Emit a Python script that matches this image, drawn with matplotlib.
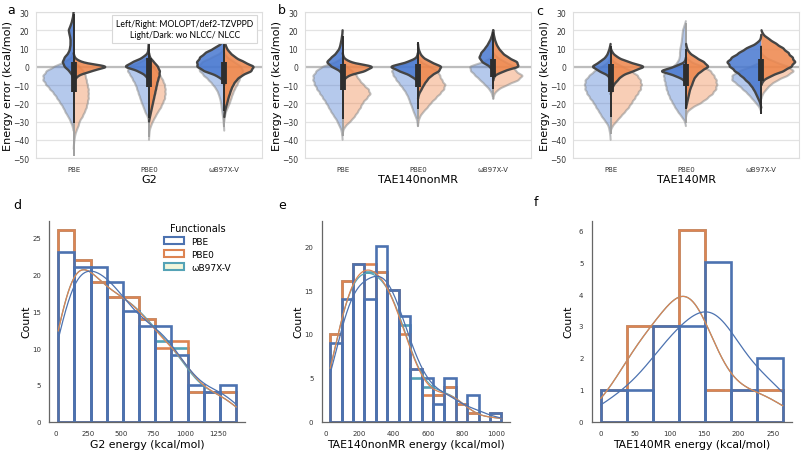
import numpy as np
import matplotlib
matplotlib.use("Agg")
import matplotlib.pyplot as plt
from matplotlib.patches import Patch

plt.rcParams['font.family'] = ['DejaVu Sans']

functionals = ["PBE", "PBE0", "ωB97X-V"]
datasets = ["G2", "TAE140nonMR", "TAE140MR"]

# violins: errors read in 2.5 kcal/mol bins, (lowest bin, relative counts going up)
STEP = 2.5

g2_wo_molopt = [
    (-32.5, [1, 3, 5, 8, 10, 13, 16, 19, 23, 27, 30, 30, 27, 19, 9, 2]),
    (-27.5, [1, 3.5, 5, 7, 8.5, 10, 11.5, 13, 15.5, 18, 21, 20, 8]),
    (-32.5, [0.3, 0.7, 1.2, 2, 2.5, 3, 4, 5.5, 7.5, 11, 15, 20, 24, 26, 22, 12, 3]),
]
g2_wo_def2 = [
    (-42.5, [0.3, 0.8, 1.5, 3, 5, 6, 9, 11, 13, 14, 15, 15, 15, 14, 13, 12, 10, 6, 1]),
    (-37.5, [0.3, 0.7, 2, 4, 6.5, 9, 12, 14, 16, 16.5, 16.5, 16, 14, 11.5, 8, 4, 1]),
    (-27.5, [0.5, 1.5, 3.5, 5.5, 7, 8.5, 10.5, 13, 15, 17, 19, 17, 10, 3]),
]
g2_nlcc_molopt = [
    (-5, [1, 4, 9, 11, 9, 5, 3.5, 3, 3, 4, 5, 3, 1.5, 0.5]),
    (-5, [3, 10, 25, 16, 6, 1, 0.5, 0.3]),
    (-7.5, [1, 7, 20, 27, 27, 24, 19, 10, 3, 0.5]),
]
g2_nlcc_def2 = [
    (-7.5, [1, 4, 17, 36, 7, 1]),
    (-27.5, [1, 2, 3, 4, 5, 6, 7, 8, 9, 10.5, 11, 9, 5, 1]),
    (-25, [0.5, 1.5, 3, 4, 5.5, 7, 9, 12, 17, 27, 30, 20, 11, 6, 2.5, 1, 0.3]),
]

non_wo_molopt = [
    (-37.5, [0.3, 1, 3, 5, 8, 11, 13.5, 16, 19, 22, 25, 27.5, 29, 29, 26, 20, 6]),
    (-30, [0.5, 2, 4, 5.5, 7.5, 9, 11, 14, 17.5, 21, 24, 26, 22, 6]),
    (-15, [1, 3.5, 8, 12.5, 17.5, 22, 24, 10, 1]),
]
non_wo_def2 = [
    (-35, [0.5, 3, 8, 12, 15, 18, 20, 24, 28, 26, 21, 17, 14, 10, 4]),
    (-30, [0.5, 2, 5, 9.5, 13, 17.5, 22, 26, 27.5, 24, 22, 20, 12, 3]),
    (-15, [1, 5, 14, 25, 30, 22, 21, 12, 4]),
]
non_nlcc_molopt = [
    (-2.5, [2, 11, 16, 11, 6, 3, 2, 1, 0.3]),
    (-7.5, [1, 7, 18, 29, 10, 1]),
    (-2.5, [0.5, 3, 11, 14, 12, 8, 5, 2.5, 1]),
]
non_nlcc_def2 = [
    (-7.5, [1, 5, 22, 32, 7, 1]),
    (-15, [1, 3.5, 6, 9, 13, 21, 24, 13, 5, 2, 0.5]),
    (-5, [1, 10, 26, 24, 15, 9, 5.5, 3, 1.5, 0.5]),
]

mr_wo_molopt = [
    (-37.5, [0.3, 1, 2, 5, 8.5, 11, 14, 16.5, 20, 23, 25, 25.5, 25, 21, 16, 8, 2]),
    (-30, [1, 4, 7.5, 10.5, 13, 15.5, 17.5, 19, 20, 21, 22, 20, 12, 8, 6, 6, 5.5, 4.5, 4, 3.5, 3, 1.5]),
    (-22.5, [1.5, 5, 9, 13, 18, 23, 29, 29, 22, 10]),
]
mr_wo_def2 = [
    (-32.5, [2, 6, 10, 14, 18, 21, 24, 27, 30, 31, 30, 27, 21, 12, 3]),
    (-25, [1, 6, 15, 21, 26.5, 30, 31, 30.5, 28, 25, 17, 5]),
    (-15, [1.5, 5, 9, 16, 26, 33, 27, 14, 4]),
]
mr_nlcc_molopt = [
    (-5, [2, 11, 19, 11, 5, 2.5, 1]),
    (-7.5, [1.5, 10, 27, 11, 1]),
    (-20, [1, 3, 5, 7.5, 10.5, 15, 20, 26, 31, 34, 29, 22, 15, 5, 0.5]),
]
mr_nlcc_def2 = [
    (-12.5, [1, 3, 7, 11, 22, 35, 18, 7, 2]),
    (-20, [1, 2, 3, 4, 6, 7.5, 10, 15, 23, 18, 10, 3.5, 1]),
    (-7.5, [2, 10, 22, 30, 34, 31, 27, 22, 15, 8, 2]),
]

# inner box (NLCC) and whisker of the wo NLCC layer, rows = datasets
box_q1 = [[-13.7, -11, -9.5], [-13, -11, -5.7], [-14, -10.4, -7.6]]
box_q3 = [[2.7, 5, 2.4], [1.5, 1.5, 4.3], [1.5, 1.5, 4.3]]
whisk_lo = [[-31, -28, -24], [-28.6, -23, -12], [-27.7, -23, -26]]
whisk_hi = [[29, 15, 15], [17, 13.4, 19], [11.6, 9.7, 11.6]]
wo_whisk_lo = [[-49, -38.6, -33], [-37.7, -28.6, -16.8], [-37, -31, -26]]
wo_whisk_hi = [[8, 5, 8], [5, 4, 5], [4, 24, 12]]

# histograms of reference energies
g2_bins = (18, 124.8)
g2_pbe = [23, 21, 21, 19, 15, 13, 13, 9, 5, 4, 5]
g2_pbe0 = [26, 22, 19, 17, 17, 14, 10, 11, 4, 4, 4]
g2_wb97xv = [26, 22, 19, 17, 17, 14, 11, 10, 4, 4, 4]

non_bins = (29, 66.7)
non_pbe = [9, 14, 18, 14, 20, 15, 12, 6, 5, 2, 5, 0, 3, 0, 1]
non_pbe0 = [10, 16, 18, 18, 17, 15, 10, 6, 3, 3, 4, 2, 1, 0, 1]
non_wb97xv = [10, 16, 18, 17, 17, 15, 11, 5, 4, 3, 4, 2, 1, 0, 1]

mr_bins = (0, 37.7)
mr_pbe = [1, 1, 3, 3, 5, 1, 2]
mr_pbe0 = [1, 3, 3, 6, 1, 1, 1]
mr_wb97xv = [1, 3, 3, 6, 1, 1, 1]

BLUE, ORANGE = "#4878d0", "#ee854a"
hist_colors = ["#4c72b0", "#dd8452", "#55a3b6"]
WIDTH_PER_COUNT = 1 / 75.0


def half_density(lo, counts, bw=1.25):
    centers = lo + STEP * np.arange(len(counts))
    y = np.linspace(centers[0] - 2 * bw, centers[-1] + 2 * bw, 300)
    d = np.zeros_like(y)
    for c, n in zip(centers, counts):
        d += n * np.exp(-0.5 * ((y - c) / bw) ** 2)
    d *= STEP / (bw * np.sqrt(2 * np.pi))
    return y, d


def draw_half(ax, x, lo, counts, side, color, alpha, ec, elw, z):
    y, d = half_density(lo, counts)
    xs = x + side * d * WIDTH_PER_COUNT
    ax.fill_betweenx(y, x, xs, facecolor=color, alpha=alpha, lw=0, zorder=z)
    ax.plot(xs, y, color=ec, lw=elw, zorder=z + 0.1, solid_capstyle='round')


fig = plt.figure(figsize=(8.03, 4.52), dpi=100)

top_left = [0.0448, 0.3798, 0.7136]
violin_sets = [
    (g2_wo_molopt, g2_wo_def2, g2_nlcc_molopt, g2_nlcc_def2),
    (non_wo_molopt, non_wo_def2, non_nlcc_molopt, non_nlcc_def2),
    (mr_wo_molopt, mr_wo_def2, mr_nlcc_molopt, mr_nlcc_def2),
]

for k in range(3):
    ax = fig.add_axes([top_left[k], 0.6482, 0.2814, 0.3230])
    wo_m, wo_d, nl_m, nl_d = violin_sets[k]
    for i in range(3):
        draw_half(ax, i, *wo_m[i], -1, BLUE, 0.4, (0.55, 0.55, 0.55, 0.55), 1.5, 2)
        draw_half(ax, i, *wo_d[i], 1, ORANGE, 0.4, (0.55, 0.55, 0.55, 0.55), 1.5, 2)
        ax.plot([i, i], [wo_whisk_lo[k][i], wo_whisk_hi[k][i]], color='#a0a0a0',
                lw=1.4, zorder=3, solid_capstyle='butt')
        draw_half(ax, i, *nl_m[i], -1, BLUE, 0.85, '#454545', 1.7, 4)
        draw_half(ax, i, *nl_d[i], 1, ORANGE, 0.85, '#454545', 1.7, 4)
        ax.plot([i, i], [whisk_lo[k][i], whisk_hi[k][i]], color='#2e2e2e',
                lw=1.4, zorder=6, solid_capstyle='butt')
        ax.plot([i, i], [box_q1[k][i], box_q3[k][i]], color='#2e2e2e',
                lw=4.2, zorder=6, solid_capstyle='butt')
    ax.axhline(0, color='#bdbdbd', lw=1.6, zorder=1)
    ax.set_xlim(-0.5, 2.5)
    ax.set_ylim(-50, 30)
    ax.set_yticks(np.arange(-50, 31, 10))
    ax.set_xticks(range(3))
    ax.set_xticklabels(functionals)
    ax.grid(axis='y', color='#e3e3e3', lw=0.9, zorder=0)
    ax.set_axisbelow(True)
    for s in ax.spines.values():
        s.set_color('#dedede')
        s.set_linewidth(0.8)
    ax.tick_params(axis='y', length=0, labelsize=5.5, pad=5, colors='#333333')
    ax.tick_params(axis='x', length=0, labelsize=5, pad=6, colors='#333333')
    ax.set_ylabel("Energy error (kcal/mol)", fontsize=8.1)
    ax.yaxis.set_label_coords(-0.1, 0.5)
    ax.set_xlabel(datasets[k], fontsize=8, labelpad=1)
    if k == 0:
        ax.text(0.963, 0.955, "Left/Right: MOLOPT/def2-TZVPPD\nLight/Dark: wo NLCC/ NLCC",
                transform=ax.transAxes, ha='right', va='top', fontsize=6.2,
                family=['Lato', 'DejaVu Sans'], multialignment='center', zorder=10,
                linespacing=1.35,
                bbox=dict(boxstyle='square,pad=0.45', fc='white', ec='#d8d8d8', lw=0.8))

# bottom histograms
bottom_axes = [[0.0614, 0.0648, 0.2437, 0.4447],
               [0.4006, 0.0648, 0.2345, 0.4447],
               [0.7369, 0.0648, 0.2491, 0.4447]]
hist_sets = [
    (g2_bins, [g2_pbe, g2_pbe0, g2_wb97xv]),
    (non_bins, [non_pbe, non_pbe0, non_wb97xv]),
    (mr_bins, [mr_pbe, mr_pbe0, mr_wb97xv]),
]
xlabels = ["G2 energy (kcal/mol)", "TAE140nonMR energy (kcal/mol)", "TAE140MR energy (kcal/mol)"]
xtick_steps = [250, 200, 50]

for k in range(3):
    ax = fig.add_axes(bottom_axes[k])
    (start, width), counts_list = hist_sets[k]
    nb = len(counts_list[0])
    edges = start + width * np.arange(nb + 1)
    centers = edges[:-1] + width / 2
    grid = np.linspace(edges[0], edges[-1], 300)
    for j in [2, 1, 0]:
        counts = np.asarray(counts_list[j], float)
        ax.bar(edges[:-1], counts, width=width, align='edge', fill=False,
               edgecolor=hist_colors[j], linewidth=1.9)
    for j in [2, 1, 0]:
        counts = np.asarray(counts_list[j], float)
        n = counts.sum()
        mean = (centers * counts).sum() / n
        std = np.sqrt(((centers - mean) ** 2 * counts).sum() / (n - 1))
        bw = std * n ** (-0.2)
        dens = np.zeros_like(grid)
        for c, m in zip(centers, counts):
            dens += m * np.exp(-0.5 * ((grid - c) / bw) ** 2)
        dens /= n * bw * np.sqrt(2 * np.pi)
        ax.plot(grid, dens * n * width, color=hist_colors[j], lw=0.9)
    if k == 1:
        ax.set_ylim(0, 22.9)
    ax.xaxis.set_major_locator(plt.MultipleLocator(xtick_steps[k]))
    for s in ['top', 'right']:
        ax.spines[s].set_visible(False)
    for s in ['left', 'bottom']:
        ax.spines[s].set_color('#666666')
        ax.spines[s].set_linewidth(0.9)
    ax.tick_params(length=0, labelsize=5, pad=6, colors='#333333')
    ax.set_xlabel(xlabels[k], fontsize=7.8, labelpad=2)
    ax.set_ylabel("Count", fontsize=7.8)
    ax.yaxis.set_label_coords(-18 / (803 * bottom_axes[k][2]), 0.5)
    if k == 0:
        handles = [Patch(facecolor='white', edgecolor=hist_colors[0], lw=1.5),
                   Patch(facecolor='white', edgecolor=hist_colors[1], lw=1.5),
                   Patch(facecolor='#f1f6dc', edgecolor=hist_colors[2], lw=1.5)]
        ax.legend(handles, functionals, title="Functionals", loc='upper right',
                  bbox_to_anchor=(0.97, 1.03), frameon=False, fontsize=6.5,
                  title_fontsize=7, handlelength=2.2, handleheight=0.8,
                  labelspacing=0.45, handletextpad=0.8)

for lab, x, y in [("a", 0.014, 0.977), ("b", 0.351, 0.977), ("c", 0.672, 0.975),
                  ("d", 0.021, 0.546), ("e", 0.351, 0.546), ("f", 0.668, 0.551)]:
    fig.text(x, y, lab, fontsize=9, ha='center', va='center')

fig.savefig("out.png", dpi=100)
